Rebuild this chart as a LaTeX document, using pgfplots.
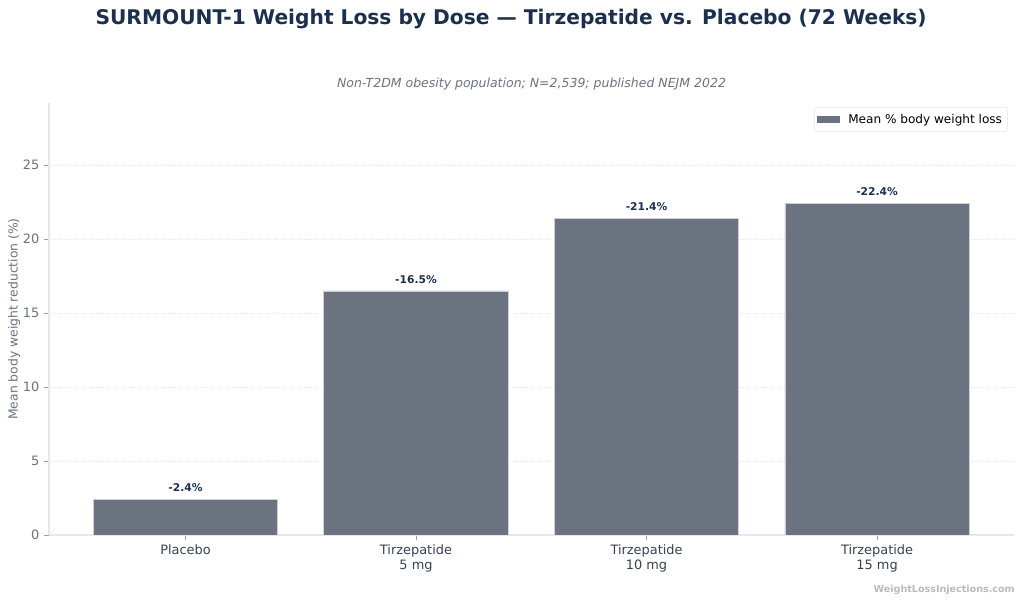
\documentclass[border=0pt]{standalone}
\usepackage{pgfplots}
\pgfplotsset{compat=1.18}
\usepackage{fontspec}
\setmainfont{DejaVu Sans}
\definecolor{barc}{HTML}{6B7280}
\definecolor{navy}{HTML}{1B2F4E}
\definecolor{tickc}{HTML}{6B7280}
\definecolor{xlab}{HTML}{374151}
\definecolor{gridc}{HTML}{E5E7EB}
\definecolor{spine}{HTML}{E5E7EB}
\definecolor{wm}{HTML}{B5BAC3}
\begin{document}
\begin{tikzpicture}
\path[use as bounding box] (0,0) rectangle (737.28pt,434.16pt);
\node[font=\bfseries\fontsize{14.55}{17}\selectfont, text=navy] at (368pt,420.4pt) {SURMOUNT-1 Weight Loss by Dose — Tirzepatide vs. Placebo (72 Weeks)};
\node[font=\itshape\fontsize{9}{11}\selectfont, text=tickc] at (382.7pt,373.7pt) {Non-T2DM obesity population; N=2,539; published NEJM 2022};
\node[font=\bfseries\fontsize{6.9}{8}\selectfont, text=wm, anchor=east, inner sep=0pt] at (730.8pt,9.4pt) {WeightLossInjections.com};
\begin{axis}[
  at={(35.28pt,48.96pt)}, anchor=south west,
  width=694.8pt, height=311.04pt, scale only axis,
  xmin=-0.592, xmax=3.594, ymin=0, ymax=29.2,
  ybar, bar width=0.8,
  axis lines*=left,
  axis line style={draw=spine, line width=0.8pt},
  tick align=outside, major tick length=3.5pt,
  tick style={draw=tickc!70, line width=0.6pt},
  xtick={0,1,2,3},
  xticklabels={Placebo, Tirzepatide\\5 mg, Tirzepatide\\10 mg, Tirzepatide\\15 mg},
  xticklabel style={align=center, font=\fontsize{9.3}{10.6}\selectfont, text=xlab},
  ytick={0,5,10,15,20,25},
  yticklabel style={font=\fontsize{9.3}{11}\selectfont, text=tickc},
  /pgf/number format/assume math mode=true,
  ymajorgrids, grid style={densely dotted, gridc, line width=0.5pt},
  ylabel={Mean body weight reduction (\%)},
  ylabel shift=-5pt,
  ylabel style={font=\fontsize{8.9}{11}\selectfont, text=tickc},
  legend style={at={(0.9936,0.99)}, anchor=north east, draw=gridc, rounded corners=2pt,
    font=\fontsize{8.7}{11}\selectfont, inner xsep=2pt, inner ysep=2.5pt},
  legend image code/.code={\fill[barc, draw=none, sharp corners] (0pt,-2.5pt) rectangle (16.5pt,2.5pt); \path[draw=none, fill=none] (0pt,0pt) rectangle (20.5pt,0.1pt);},
  nodes near coords={-\pgfmathprintnumber[fixed,precision=1,fixed zerofill]{\pgfplotspointmeta}\%},
  every node near coord/.append style={font=\bfseries\fontsize{7.7}{9}\selectfont, text=navy, anchor=base, yshift=5.5pt},
]
\addplot[fill=barc, draw=gridc!80!barc, line width=0.5pt] coordinates {(0,2.4) (1,16.5) (2,21.4) (3,22.4)};
\addlegendentry{Mean \% body weight loss}
\end{axis}
\end{tikzpicture}
\end{document}
